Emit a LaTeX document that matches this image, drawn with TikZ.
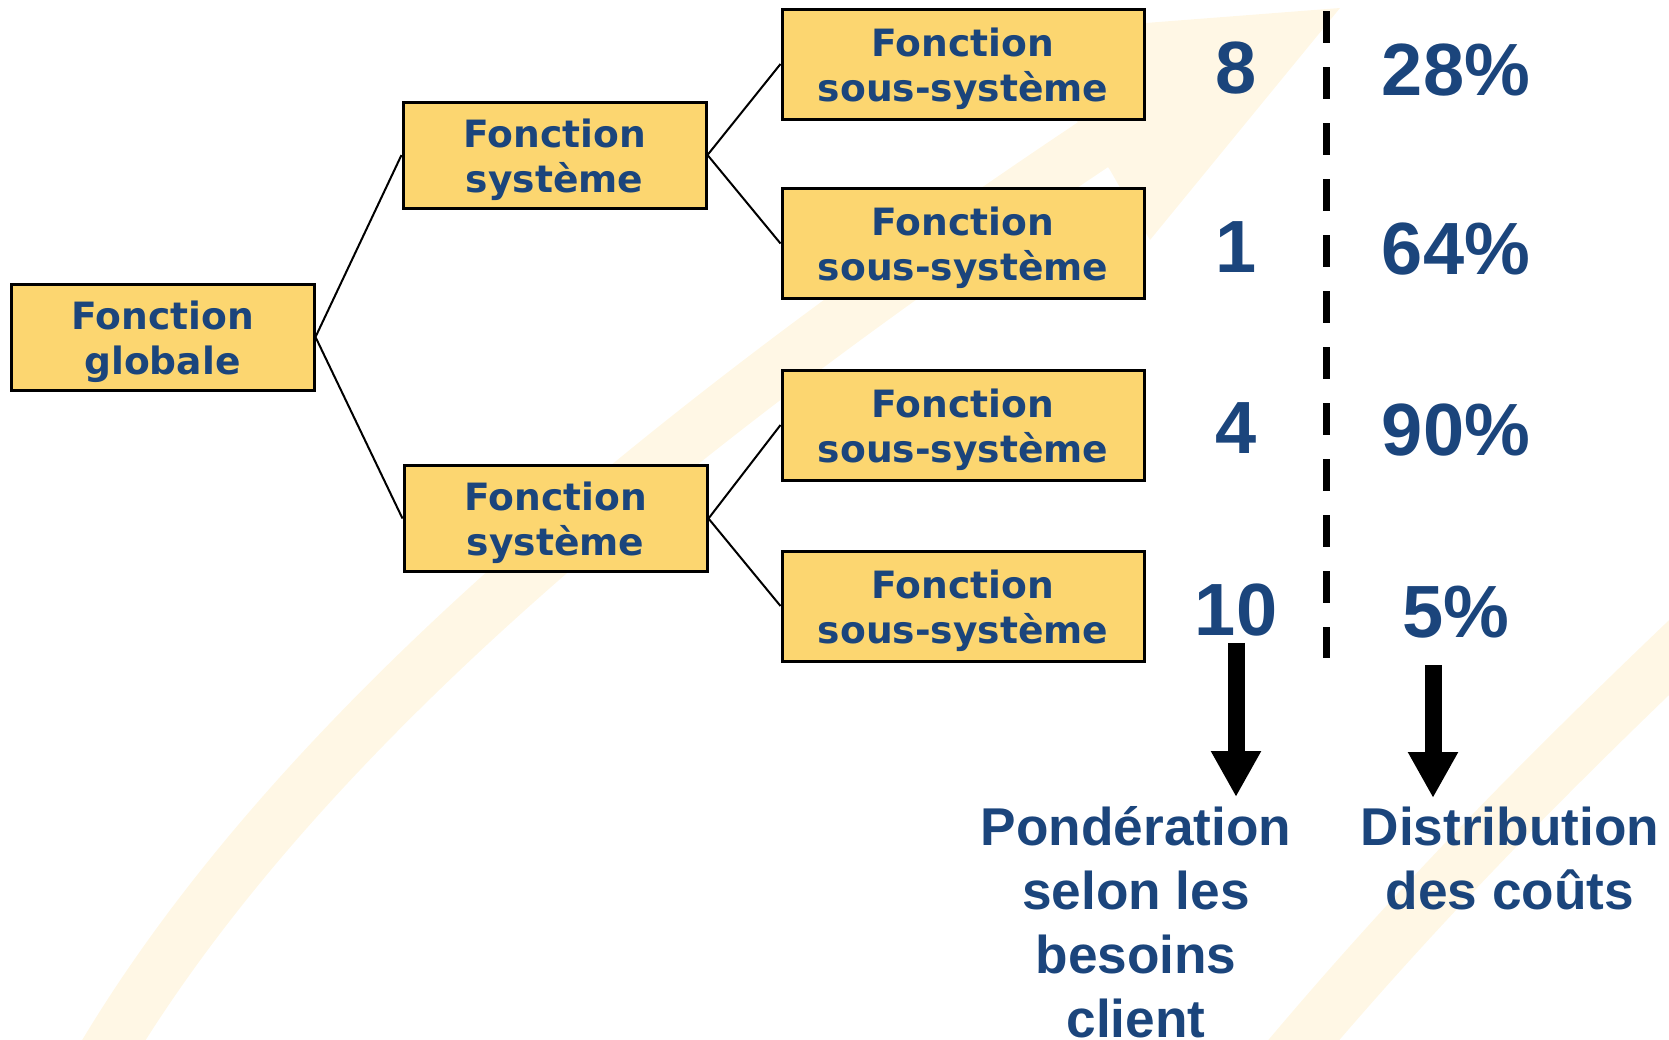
\documentclass[tikz,border=0pt]{standalone}
\usepackage{fontspec}
\usetikzlibrary{arrows.meta}
\newfontfamily\boxfont{DejaVu Sans}
\newfontfamily\numfont{Liberation Sans}
\definecolor{fctfill}{RGB}{252,214,112}
\definecolor{fctblue}{RGB}{27,69,124}
\definecolor{bgarc}{RGB}{255,247,229}
\newcommand\fstrut{\rule{0pt}{19pt}}
\tikzset{
    fctbox/.style={draw=black,line width=1.5pt,fill=fctfill,text=fctblue,align=center,inner sep=0pt,
        font=\boxfont\bfseries\fontsize{18.8}{22.5}\selectfont},
    glbox/.style={fctbox,minimum width=151.5pt,minimum height=53pt},
    ssbox/.style={fctbox,minimum width=181pt,minimum height=55pt},
    numtxt/.style={text=fctblue,font=\numfont\bfseries\fontsize{37}{40}\selectfont,anchor=base},
    labeltxt/.style={text=fctblue,align=center,inner sep=4.5pt,anchor=north,
        font=\numfont\bfseries\fontsize{26.6}{32}\selectfont},
    link/.style={line width=1pt},
    sepline/.style={line width=3.5pt,dash pattern=on 16pt off 12pt},
    downarrow/.style={line width=8.5pt,-{Triangle[width=23.5pt,length=23pt]}}
}
\begin{document}
\begin{tikzpicture}[x=0.5pt,y=-0.5pt]
        \useasboundingbox (0,0) rectangle (1669,1039);
        % faint arc in the background
        \begin{scope}
            \clip (0,0) rectangle (1669,1039);
            \draw[bgarc,line width=27pt] (90,1080) .. controls (250,800) and (560,500) .. (1100,140);
            \fill[bgarc] (1340,8) -- (990,35) -- (1075,118) -- (1110,170) -- (1150,240) -- cycle;
            \draw[bgarc,line width=27pt] (1740,590) .. controls (1560,760) and (1420,900) .. (1270,1080);
        \end{scope}
        % tree of functions
        \node[glbox] (glob) at (162.5,337) {\fstrut Fonction\\globale};
        \node[glbox] (sys1) at (554.5,155) {\fstrut Fonction\\système};
        \node[glbox] (sys2) at (555.5,518.5) {\fstrut Fonction\\système};
        \foreach \y [count=\i] in {64,243.5,425,606}
            {
                \node[ssbox] (ss\i) at (963,\y) {\fstrut Fonction\\sous-système};
            }
        \draw[link] (glob.east) -- (sys1.west);
        \draw[link] (glob.east) -- (sys2.west);
        \draw[link] (sys1.east) -- (ss1.west);
        \draw[link] (sys1.east) -- (ss2.west);
        \draw[link] (sys2.east) -- (ss3.west);
        \draw[link] (sys2.east) -- (ss4.west);
        % weights and cost shares
        \foreach \w/\p/\y [count=\i] in {8/28/93,1/64/272,4/90/453,10/5/635}
            {
                \node[numtxt] (w\i) at (1236,\y) {\w};
                \node[numtxt] (p\i) at (1456,\y+2) {\p\%};
            }
        \coordinate (septop) at (1326,11);
        \coordinate (sepbot) at (1326,658);
        \draw[sepline] (septop) -- (sepbot);
        % bottom labels
        \node[labeltxt] (pond) at (1136,797) {Pondération\\selon les\\besoins\\client};
        \node[labeltxt] (dist) at (1510,798) {Distribution\\des coûts};
        \coordinate (costfoot) at (1433,665);
        \draw[downarrow] (w4.south) -- (w4.south |- pond.north);
        \draw[downarrow] (costfoot) -- (costfoot |- dist.north);

    \end{tikzpicture}
\end{document}
